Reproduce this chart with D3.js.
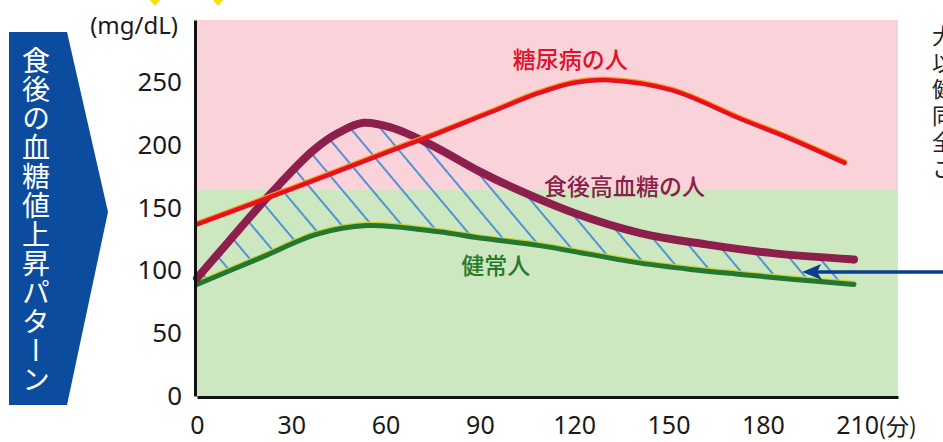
<!DOCTYPE html>
<html>
<head>
<meta charset="utf-8">
<script src="https://cdn.jsdelivr.net/npm/d3@7"></script>
<style>
  html, body { margin: 0; padding: 0; background: #fff; overflow: hidden; }
  svg { display: block; }
</style>
</head>
<body>
<svg id="chart" width="943" height="442"></svg>
<script>
// axis values
const xTicks = [0, 30, 60, 90, 120, 150, 180, 210];
const yTicks = [0, 50, 100, 150, 200, 250];
const xEnd = 223;       // plot area runs a bit past 210
const yTop = 300;
const bandSplit = 165;  // pink above, green below

// 糖尿病の人
const diabeticMin = [0, 30, 60, 77, 93, 109, 120, 131, 151, 173, 189, 206];
const diabeticVal = [137, 165, 194, 210, 226, 242, 250, 252, 244, 221, 205, 186];

// 食後高血糖の人
const spikeMin = [0, 10, 24, 37, 45, 53, 62, 74, 90, 99, 120, 141, 162, 183, 209];
const spikeVal = [94, 123, 163, 196, 210, 218, 214, 201, 179, 168, 146, 130, 121, 114, 109];

// 健常人
const healthyMin = [0, 20, 38, 54, 77, 90, 109, 125, 141, 157, 173, 190, 209];
const healthyVal = [89, 110, 129, 136, 131, 126, 120, 113, 106, 101, 97, 93, 89];

const zip = (a, b) => a.map((m, i) => ({ m: m, v: b[i] }));
const diabetic = zip(diabeticMin, diabeticVal);
const spike = zip(spikeMin, spikeVal);
const healthy = zip(healthyMin, healthyVal);

const svg = d3.select("#chart");
const numFont = "'Noto Sans', sans-serif";
const jpFont = "'Noto Sans CJK JP', sans-serif";

const x = d3.scaleLinear().domain([0, xEnd]).range([197, 898]);
const y = d3.scaleLinear().domain([0, yTop]).range([396, 20]);

// little yellow marks at the top edge
[155, 218].forEach(cx => {
  svg.append("path")
    .attr("d", `M${cx - 5},0 L${cx + 5},0 L${cx},6 Z`)
    .attr("fill", "#f7df00");
});

// left banner
svg.append("path")
  .attr("d", "M9,32 L67,32 L108,212 L67,405 L9,405 Z")
  .attr("fill", "#0b4c9f");
svg.append("text")
  .attr("x", 36)
  .attr("y", 46)
  .attr("style", "writing-mode: vertical-rl; text-orientation: upright;")
  .attr("font-family", jpFont)
  .attr("font-size", 28)
  .attr("letter-spacing", 1)
  .attr("fill", "#fff")
  .text("食後の血糖値上昇パターン");

// background bands
svg.append("rect")
  .attr("x", x(0)).attr("y", y(yTop))
  .attr("width", x(xEnd) - x(0)).attr("height", y(bandSplit) - y(yTop))
  .attr("fill", "#f9d2da");
svg.append("rect")
  .attr("x", x(0)).attr("y", y(bandSplit))
  .attr("width", x(xEnd) - x(0)).attr("height", y(0) - y(bandSplit) + 1)
  .attr("fill", "#cde8c1");

// hatch between 食後高血糖 and 健常人
const defs = svg.append("defs");
const pat = defs.append("pattern")
  .attr("id", "hatch")
  .attr("patternUnits", "userSpaceOnUse")
  .attr("width", 23).attr("height", 23)
  .attr("patternTransform", "rotate(-40)");
pat.append("line")
  .attr("x1", 2).attr("y1", 0).attr("x2", 2).attr("y2", 23)
  .attr("stroke", "#3a84d6").attr("stroke-width", 1.7);

const curve = d3.curveCatmullRom.alpha(0.5);
const mask = defs.append("mask").attr("id", "between");
mask.append("path")
  .attr("d", d3.area().x(d => x(d.m)).y0(y(0)).y1(d => y(d.v)).curve(curve)(spike))
  .attr("fill", "#fff");
mask.append("path")
  .attr("d", d3.area().x(d => x(d.m)).y0(y(0) + 5).y1(d => y(d.v)).curve(curve)(healthy))
  .attr("fill", "#000");
svg.append("rect")
  .attr("x", x(0)).attr("y", y(yTop))
  .attr("width", x(xEnd) - x(0)).attr("height", y(0) - y(yTop))
  .attr("fill", "url(#hatch)")
  .attr("mask", "url(#between)");

const line = d3.line().x(d => x(d.m)).y(d => y(d.v)).curve(curve);

// 健常人
svg.append("path").attr("d", line(healthy))
  .attr("fill", "none").attr("stroke", "#c9d630").attr("stroke-width", 5)
  .attr("stroke-linecap", "round").attr("transform", "translate(0,-1.2)");
svg.append("path").attr("d", line(healthy))
  .attr("fill", "none").attr("stroke", "#23772f").attr("stroke-width", 5)
  .attr("stroke-linecap", "round");

// 食後高血糖の人
svg.append("path").attr("d", line(spike))
  .attr("fill", "none").attr("stroke", "#8c1f4b").attr("stroke-width", 8)
  .attr("stroke-linecap", "round");

// 糖尿病の人
svg.append("path").attr("d", line(diabetic))
  .attr("fill", "none").attr("stroke", "#f59a1c").attr("stroke-width", 5)
  .attr("stroke-linecap", "round").attr("transform", "translate(0,-1)");
svg.append("path").attr("d", line(diabetic))
  .attr("fill", "none").attr("stroke", "#e8101e").attr("stroke-width", 4.5)
  .attr("stroke-linecap", "round");

// axes
const yAxis = svg.append("g")
  .attr("transform", `translate(${x(0) - 2},0)`)
  .call(d3.axisLeft(y).tickValues(yTicks).tickSize(0).tickSizeOuter(0).tickPadding(13));
yAxis.select(".domain").attr("stroke", "#111").attr("stroke-width", 3);
yAxis.selectAll("text").attr("font-family", numFont).attr("font-size", 26).attr("fill", "#1a1a1a");

const xAxis = svg.append("g")
  .attr("transform", `translate(0,${y(0) + 1})`)
  .call(d3.axisBottom(x).tickValues(xTicks).tickSize(0).tickSizeOuter(0).tickPadding(19));
xAxis.select(".domain").attr("stroke", "#111").attr("stroke-width", 3);
xAxis.selectAll("text").attr("font-family", numFont).attr("font-size", 25).attr("fill", "#1a1a1a");

svg.append("text")
  .attr("x", x(210) + 21).attr("y", y(0) + 39)
  .attr("font-family", jpFont).attr("font-size", 23).attr("fill", "#1a1a1a")
  .text("(分)");

svg.append("text")
  .attr("x", 178).attr("y", 34)
  .attr("text-anchor", "end")
  .attr("font-family", numFont).attr("font-size", 24).attr("fill", "#1a1a1a")
  .text("(mg/dL)");

// series labels
const labels = [
  { text: "糖尿病の人", m: 118.7, v: 262, color: "#e2102a" },
  { text: "食後高血糖の人", m: 136, v: 160, color: "#8a1f4a" },
  { text: "健常人", m: 95, v: 97, color: "#2a7a2c" }
];
labels.forEach(l => {
  svg.append("text")
    .attr("x", x(l.m)).attr("y", y(l.v))
    .attr("text-anchor", "middle")
    .attr("font-family", jpFont).attr("font-size", 23).attr("font-weight", 500)
    .attr("fill", l.color)
    .text(l.text);
});

// arrow pointing into the hatched area
const tipX = x(192.5), tipY = y(99);
svg.append("line")
  .attr("x1", tipX + 14).attr("y1", tipY).attr("x2", 943).attr("y2", tipY)
  .attr("stroke", "#0a3d8e").attr("stroke-width", 3.5);
svg.append("path")
  .attr("d", `M${tipX},${tipY} L${tipX + 19},${tipY - 8} L${tipX + 15},${tipY} L${tipX + 20},${tipY + 8} Z`)
  .attr("fill", "#0a3d8e");

// body text, cut off by the right edge as in the source
["大", "以", "健", "同", "全", "こ"].forEach((c, i) => {
  svg.append("text")
    .attr("x", 932).attr("y", 44 + i * 26.5)
    .attr("font-family", jpFont).attr("font-size", 22).attr("fill", "#222")
    .text(c);
});
</script>
</body>
</html>
